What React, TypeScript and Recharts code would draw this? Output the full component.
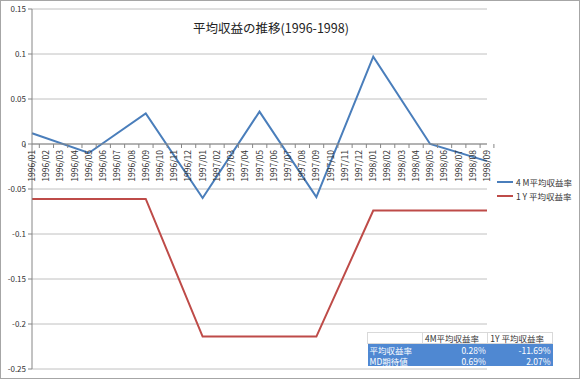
import React from "react";
import { CartesianGrid, Line, LineChart, XAxis, YAxis } from "recharts";

const months = [
  "1996/01", "1996/02", "1996/03", "1996/04", "1996/05", "1996/06", "1996/07", "1996/08", "1996/09", "1996/10", "1996/11", "1996/12",
  "1997/01", "1997/02", "1997/03", "1997/04", "1997/05", "1997/06", "1997/07", "1997/08", "1997/09", "1997/10", "1997/11", "1997/12",
  "1998/01", "1998/02", "1998/03", "1998/04", "1998/05", "1998/06", "1998/07", "1998/08", "1998/09",
];

// values only at every 4th month, the line connects the gaps
const avg4M = [
  0.012, null, null, null, -0.01, null, null, null, 0.034, null, null, null,
  -0.06, null, null, null, 0.036, null, null, null, -0.059, null, null, null,
  0.097, null, null, null, 0, null, null, null, -0.019,
];

const avg1Y = [
  -0.061, null, null, null, -0.061, null, null, null, -0.061, null, null, null,
  -0.214, null, null, null, -0.214, null, null, null, -0.214, null, null, null,
  -0.074, null, null, null, -0.074, null, null, null, -0.074,
];

const yTicks = [-0.25, -0.2, -0.15, -0.1, -0.05, 0, 0.05, 0.1, 0.15];

const seriesNames = ["4 M平均収益率", "1 Y 平均収益率"];
const seriesColors = ["#4a7ebb", "#be4b48"];

const tableHeader = ["", "4M平均収益率", "1Y 平均収益率"];
const tableRows = [
  ["平均収益率", "0.28%", "-11.69%"],
  ["MD期待値", "0.69%", "2.07%"],
];

const data = months.map((m, i) => ({ month: m, a: avg4M[i], b: avg1Y[i] }));

const W = 580;
const H = 379;
const TOP = 9;
const BOTTOM = 10;
const PLOT_H = H - TOP - BOTTOM;
const Y_MIN = -0.25;
const Y_MAX = 0.15;
const ZERO_Y = TOP + (PLOT_H * Y_MAX) / (Y_MAX - Y_MIN);
const FONT = "'Noto Sans CJK JP', 'Noto Sans', sans-serif";

const MonthTick = (props: any) => {
  const { x, payload, index } = props;
  const band = (W - 32 - 93) / months.length;
  const ty = ZERO_Y - 1;
  return (
    <g>
      <line x1={x - band / 2} x2={x - band / 2} y1={ty} y2={ty + 4} stroke="#868686" />
      {index === months.length - 1 && (
        <line x1={x + band / 2} x2={x + band / 2} y1={ty} y2={ty + 4} stroke="#868686" />
      )}
      <text
        x={x + 3}
        y={ty + 6}
        transform={`rotate(-90 ${x + 3} ${ty + 6})`}
        textAnchor="end"
        fontSize={8.5}
        fill="#333"
        fontFamily={FONT}
      >
        {payload.value}
      </text>
    </g>
  );
};

export default function App() {
  return (
    <div
      style={{
        position: "absolute",
        left: 0,
        top: 0,
        width: W,
        height: H,
        boxSizing: "border-box",
        border: "1px solid #a6a6a6",
        background: "#fff",
      }}
    >
      <LineChart
        width={W - 2}
        height={H - 2}
        data={data}
        margin={{ top: TOP - 1, right: 92, bottom: BOTTOM - 2, left: 7 }}
        style={{ position: "absolute", left: 0, top: 0 }}
      >
        <CartesianGrid vertical={false} stroke="#c0c0c0" />
        <XAxis
          dataKey="month"
          height={1}
          axisLine={false}
          tickLine={false}
          interval={0}
          tick={(p: any) => <MonthTick {...p} />}
        />
        <YAxis
          domain={[Y_MIN, Y_MAX]}
          ticks={yTicks}
          width={24}
          tickFormatter={(v: number) => String(v)}
          tick={{ fontSize: 8, fill: "#333", fontFamily: FONT }}
          tickSize={4}
          tickMargin={2}
          axisLine={{ stroke: "#868686" }}
          tickLine={{ stroke: "#868686" }}
        />
        <Line
          dataKey="a"
          name={seriesNames[0]}
          stroke={seriesColors[0]}
          strokeWidth={2}
          dot={false}
          connectNulls
          isAnimationActive={false}
        />
        <Line
          dataKey="b"
          name={seriesNames[1]}
          stroke={seriesColors[1]}
          strokeWidth={2}
          dot={false}
          connectNulls
          isAnimationActive={false}
        />
      </LineChart>
      <svg width={W - 2} height={H - 2} style={{ position: "absolute", left: 0, top: 0, pointerEvents: "none" }}>
        <line x1={31} x2={486} y1={ZERO_Y - 1} y2={ZERO_Y - 1} stroke="#868686" />
      </svg>
      <div style={{ position: "absolute", left: 496, top: 174, fontFamily: FONT, fontSize: 8.5, color: "#333" }}>
        {seriesNames.map((n, i) => (
          <div key={n} style={{ display: "flex", alignItems: "center", height: 14 }}>
            <span style={{ display: "inline-block", width: 16, height: 2, background: seriesColors[i], marginRight: 3 }} />
            {n}
          </div>
        ))}
      </div>
      <div
        style={{
          position: "absolute",
          left: 0,
          top: 17,
          width: 540,
          textAlign: "center",
          fontFamily: FONT,
          fontSize: 12.5,
          color: "#222",
        }}
      >
        平均収益の推移(1996-1998)
      </div>
      <table
        style={{
          position: "absolute",
          left: 366,
          top: 331,
          width: 186,
          borderCollapse: "collapse",
          fontFamily: FONT,
          fontSize: 8.5,
          lineHeight: "10px",
        }}
      >
        <tbody>
          <tr style={{ background: "#fff", color: "#333" }}>
            {tableHeader.map((h, i) => (
              <td key={i} style={{ border: "1px solid #d9d9d9", padding: "0 2px", height: 10, textAlign: "left", width: i === 0 ? 50 : undefined }}>
                {h}
              </td>
            ))}
          </tr>
          {tableRows.map((r) => (
            <tr key={r[0]} style={{ background: "#4f88d2", color: "#fff" }}>
              {r.map((c, i) => (
                <td key={i} style={{ padding: "0 2px", height: 11, textAlign: i === 0 ? "left" : "right" }}>
                  {c}
                </td>
              ))}
            </tr>
          ))}
        </tbody>
      </table>
    </div>
  );
}
